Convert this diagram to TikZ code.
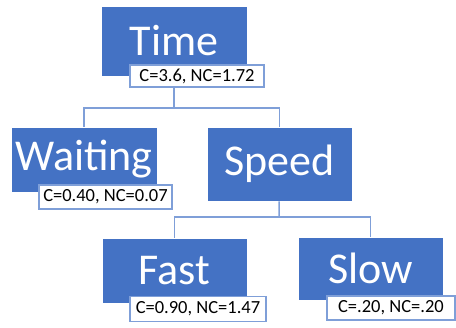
\documentclass[tikz,border=0pt]{standalone}
\usepackage{fontspec}
\setmainfont{Carlito}
\definecolor{boxblue}{HTML}{4472C4}
\definecolor{lineblue}{HTML}{7F9FD8}
\begin{document}
\begin{tikzpicture}[x=1pt,y=-1pt,
  attr/.style={rectangle,fill=boxblue,draw=white,line width=0.6pt,text=white,inner sep=0pt,
    font=\fontsize{44}{48}\selectfont},
  score/.style={rectangle,fill=white,draw=lineblue,line width=1.3pt,text=black,inner sep=0pt,
    font=\fontsize{18.5}{22}\selectfont},
  link/.style={draw=lineblue,line width=1.5pt}]
\useasboundingbox (0,0) rectangle (456,328);

\coordinate (SPLITONE) at (174,108);
\coordinate (SPLITTWO) at (279,217);

\draw (174,41) node(TIME)[attr,minimum width=146,minimum height=70]{Time};
\draw (84,159.5) node(WAIT)[attr,minimum width=146,minimum height=65]{Waiting};
\draw (279.5,164) node(SPEED)[attr,minimum width=145,minimum height=74]{Speed};
\draw (174.5,270.5) node(FAST)[attr,minimum width=145,minimum height=65]{Fast};
\draw (370.5,268.5) node(SLOW)[attr,minimum width=145,minimum height=63]{Slow};

% connectors
\draw[link] (TIME) -- (SPLITONE);
\draw[link] (SPLITONE) -| (WAIT);
\draw[link] (SPLITONE) -| (SPEED);
\draw[link] (SPEED) -- (SPLITTWO);
\draw[link] (SPLITTWO) -| (FAST);
\draw[link] (SPLITTWO) -| (SLOW);

% scores on top
\draw (197,76) node(TIMESC)[score,minimum width=134,minimum height=22]{C=3.6, NC=1.72};
\draw (105.5,197) node(WAITSC)[score,minimum width=133,minimum height=24]{C=0.40, NC=0.07};
\draw (198,309) node(FASTSC)[score,minimum width=136,minimum height=25]{C=0.90, NC=1.47};
\draw (391,308) node(SLOWSC)[score,minimum width=128,minimum height=24]{C=.20, NC=.20};

\end{tikzpicture}
\end{document}
